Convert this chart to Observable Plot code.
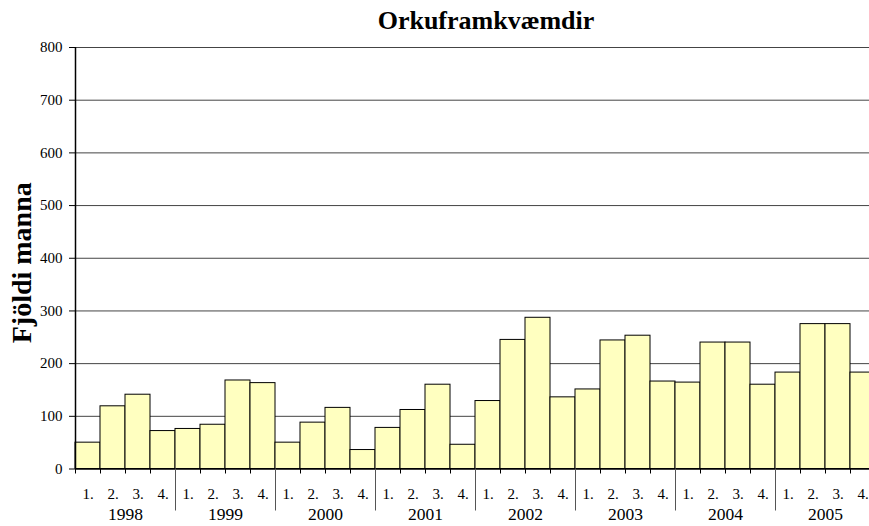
<!DOCTYPE html>
<html><head><meta charset="utf-8">
<script src="https://cdn.jsdelivr.net/npm/d3@7"></script>
<script src="https://cdn.jsdelivr.net/npm/@observablehq/plot@0.6"></script>
<style>
html,body{margin:0;padding:0;overflow:hidden;background:#fff;}
#wrap{position:relative;width:869px;height:526px;overflow:hidden;}
#title{position:absolute;left:336px;width:300px;top:8px;text-align:center;font:bold 26px "Liberation Serif";line-height:26px;color:#000;}
#chart{position:absolute;left:0;top:0;}
</style></head><body>
<div id="wrap"><div id="chart"></div><div id="title">Orkuframkvæmdir</div></div>
<script>
const years = ["1998","1999","2000","2001","2002","2003","2004","2005"];
const quarters = ["1.","2.","3.","4."];
const values = [
  50,119,141,72,
  76,84,168,163,
  50,88,116,36,
  78,112,160,46,
  129,245,287,136,
  151,244,253,166,
  164,240,240,160,
  183,275,275,183
];
const yTicks = [0,100,200,300,400,500,600,700,800];
const yLabel = "Fjöldi manna";

const data = values.map((v, i) => ({i, v}));
const n = values.length;
const quarterTicks = d3.range(0, n).filter(i => i === 0 || i % 4 !== 0);
const yearSeps = d3.range(4, n, 4);
const quarterCenters = d3.range(0, n).map(i => i + 0.5);
const yearCenters = years.map((y, k) => k * 4 + 2);

const chart = Plot.plot({
  width: 869,
  height: 526,
  marginLeft: 75,
  marginRight: -6,
  marginTop: 47,
  marginBottom: 57.5,
  style: {fontFamily: "Liberation Serif", background: "white", color: "black"},
  x: {domain: [0, n], axis: null},
  y: {domain: [0, 800], axis: null},
  marks: [
    Plot.ruleY(yTicks.filter(t => t > 0), {stroke: "#444", strokeWidth: 1}),
    Plot.rectY(data, {x1: "i", x2: d => d.i + 1, y1: 0, y2: "v", fill: "#ffffc0", stroke: "#000", strokeWidth: 1}),
    Plot.ruleY([0], {stroke: "#000", strokeWidth: 1.5}),
    Plot.ruleX([0], {stroke: "#000", strokeWidth: 1.5}),
    Plot.axisY({ticks: yTicks, tickSize: 6, tickPadding: 7, fontSize: 15, label: null, tickFormat: d => String(d)}),
    Plot.axisX({ticks: quarterTicks, tickSize: 5, tickFormat: () => "", label: null}),
    Plot.axisX({ticks: yearSeps, tickSize: 42, stroke: "#555", tickFormat: () => "", label: null}),
    Plot.axisX({ticks: quarterCenters, tickSize: 0, tickPadding: 19, fontSize: 15, tickFormat: d => quarters[Math.floor(d) % 4], label: null}),
    Plot.axisX({ticks: yearCenters, tickSize: 0, tickPadding: 39, fontSize: 17.5, tickFormat: d => years[(d - 2) / 4], label: null}),
    Plot.text([yLabel], {frameAnchor: "left", textAnchor: "middle", rotate: -90, dx: -53, dy: 4.5, fontSize: 28, fontWeight: "bold", fill: "#000"})
  ]
});
document.getElementById("chart").appendChild(chart);
</script>
</body></html>
